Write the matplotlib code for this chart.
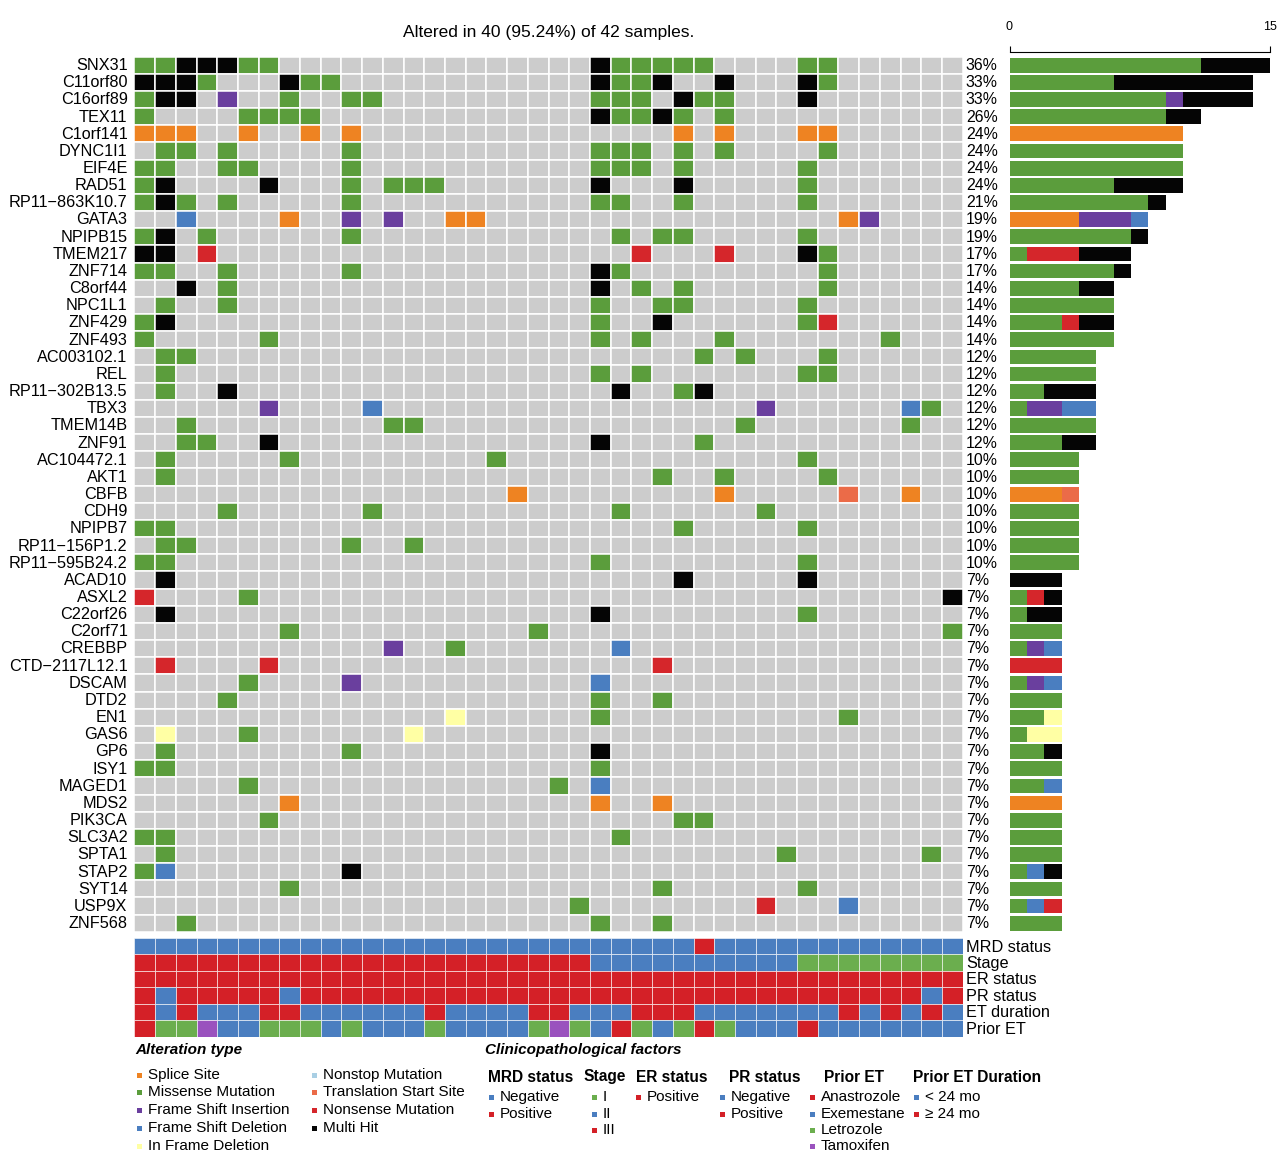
"""
Oncoplot of top mutated genes with clinicopathological annotation tracks
"""
import matplotlib
matplotlib.use('Agg')
import matplotlib.pyplot as plt
from matplotlib.patches import Rectangle
import numpy as np

plt.rcParams['font.family'] = ['Liberation Sans', 'DejaVu Sans']

# Genes, top to bottom
genes = ['SNX31', 'C11orf80', 'C16orf89', 'TEX11', 'C1orf141', 'DYNC1I1', 'EIF4E',
         'RAD51', 'RP11\u2212863K10.7', 'GATA3', 'NPIPB15', 'TMEM217', 'ZNF714',
         'C8orf44', 'NPC1L1', 'ZNF429', 'ZNF493', 'AC003102.1', 'REL',
         'RP11\u2212302B13.5', 'TBX3', 'TMEM14B', 'ZNF91', 'AC104472.1', 'AKT1',
         'CBFB', 'CDH9', 'NPIPB7', 'RP11\u2212156P1.2', 'RP11\u2212595B24.2', 'ACAD10',
         'ASXL2', 'C22orf26', 'C2orf71', 'CREBBP', 'CTD\u22122117L12.1', 'DSCAM',
         'DTD2', 'EN1', 'GAS6', 'GP6', 'ISY1', 'MAGED1', 'MDS2', 'PIK3CA', 'SLC3A2',
         'SPTA1', 'STAP2', 'SYT14', 'USP9X', 'ZNF568']

# one string per gene, one character per altered sample (40 columns)
# S splice site, M missense, I frame shift ins, D frame shift del, F in frame del,
# N nonstop, T translation start site, X nonsense, H multi hit, . none
mutations = [
    'MMHHHMM...' '..........' '..HMMMMM..' '..MM......',
    'HHHM...HMM' '..........' '..HMMH..H.' '..HM......',
    'MHH.I..M..' 'MM........' '..MMM.HMM.' '..H.......',
    'M....MMMM.' '..........' '..HMMHM.M.' '..........',
    'SSS..S..S.' 'S.........' '......S.S.' '..SS......',
    '.MM.M.....' 'M.........' '..MMM.M.M.' '...M......',
    'MM..MM....' 'M.........' '..MMM.M...' '..M.......',
    'MH....H...' 'M.MMM.....' '..H...H...' '..M.......',
    'MHM.M.....' 'M.........' '..MM..M...' '..M.......',
    '..D....S..' 'I.I..SS...' '..........' '....SI....',
    'MH.M......' 'M.........' '...M.MM...' '..M.......',
    'HH.X......' '..........' '....X...X.' '..HM......',
    'MM..M.....' 'M.........' '..HM......' '...M......',
    '..H.M.....' '..........' '..H.M.M...' '...M......',
    '.M..M.....' '..........' '..M..MM...' '..M.......',
    'MH........' '..........' '..M..H....' '..MX......',
    'M.....M...' '..........' '..M.M...M.' '......M...',
    '.MM.......' '..........' '.......M.M' '...M......',
    '.M........' '..........' '..M.M.....' '..MM......',
    '.M..H.....' '..........' '...H..MH..' '..........',
    '......I...' '.D........' '..........' 'I......DM.',
    '..M.......' '..MM......' '.........M' '.......M..',
    '..MM..H...' '..........' '..H....M..' '..........',
    '.M.....M..' '.......M..' '..........' '..M.......',
    '.M........' '..........' '.....M..M.' '...M......',
    '..........' '........S.' '........S.' '....T..S..',
    '....M.....' '.M........' '...M......' 'M.........',
    'MM........' '..........' '......M...' '..M.......',
    '.MM.......' 'M..M......' '..........' '..........',
    'MM........' '..........' '..M.......' '..M.......',
    '.H........' '..........' '......H...' '..H.......',
    'X....M....' '..........' '..........' '.........H',
    '.H........' '..........' '..H.......' '..M.......',
    '.......M..' '.........M' '..........' '.........M',
    '..........' '..I..M....' '...D......' '..........',
    '.X....X...' '..........' '.....X....' '..........',
    '.....M....' 'I.........' '..D.......' '..........',
    '....M.....' '..........' '..M..M....' '..........',
    '..........' '.....F....' '..M.......' '....M.....',
    '.F...M....' '...F......' '..........' '..........',
    '.M........' 'M.........' '..H.......' '..........',
    'MM........' '..........' '..M.......' '..........',
    '.....M....' '..........' 'M.D.......' '..........',
    '.......S..' '..........' '..S..S....' '..........',
    '......M...' '..........' '......MM..' '..........',
    'MM........' '..........' '...M......' '..........',
    '.M........' '..........' '..........' '.M......M.',
    'MD........' 'H.........' '..........' '..........',
    '.......M..' '..........' '.....M....' '..M.......',
    '..........' '..........' '.M........' 'X...D.....',
    '..M.......' '..........' '..M..M....' '..........',
]

n_samples_total = 42

vc_codes = ['S', 'M', 'I', 'D', 'F', 'N', 'T', 'X', 'H']
vc_labels = ['Splice Site', 'Missense Mutation', 'Frame Shift Insertion',
             'Frame Shift Deletion', 'In Frame Deletion', 'Nonstop Mutation',
             'Translation Start Site', 'Nonsense Mutation', 'Multi Hit']
vc_colors = ['#EE8322', '#5B9D3C', '#6A3F9E', '#4A7EC0', '#FFFFA4', '#A9CFE4',
             '#EB6B48', '#D5262B', '#050505']

# clinical annotation per sample
mrd_status = 'NNNNNNNNNNNNNNNNNNNNNNNNNNNPNNNNNNNNNNNN'     # N negative, P positive
stage = '3333333333333333333333222222222211111111'          # 1 I, 2 II, 3 III
er_status = 'PPPPPPPPPPPPPPPPPPPPPPPPPPPPPPPPPPPPPPPP'
pr_status = 'PNPPPPPNPPPPPPPPPPPPPPPPPPPPPPPPPPPPPPNP'
et_duration = 'LSLSSSLLSSSSSSLSSSSLLSSSLLLSSSSSSSLSLSLS'   # S < 24 mo, L >= 24 mo
prior_et = 'ALLTEELLLELEEELEEEELTLEALELALEEEAEEEEEEE'      # A/E/L/T drugs

c_blue = '#4A7EC0'
c_red = '#D42027'
c_green = '#6BAE4E'
c_purple = '#9A52BE'

tracks = [
    ('MRD status', mrd_status, {'N': c_blue, 'P': c_red}),
    ('Stage', stage, {'1': c_green, '2': c_blue, '3': c_red}),
    ('ER status', er_status, {'P': c_red}),
    ('PR status', pr_status, {'N': c_blue, 'P': c_red}),
    ('ET duration', et_duration, {'S': c_blue, 'L': c_red}),
    ('Prior ET', prior_et, {'A': c_red, 'E': c_blue, 'L': c_green, 'T': c_purple}),
]

# ---------------------------------------------------------------------------
W, H = 1285, 1154
fig = plt.figure(figsize=(W / 100, H / 100), dpi=100)


def px_axes(x0, y0, x1, y1):
    """Axes placed by pixel box (top-left origin)."""
    return fig.add_axes([x0 / W, 1 - y1 / H, (x1 - x0) / W, (y1 - y0) / H])


n_genes = len(genes)
n_cols = len(mutations[0])
color_of = dict(zip(vc_codes, vc_colors))

grid_x0, grid_x1 = 134.4, 962.7
grid_y0, grid_y1 = 56.6, 931.8

# 1. Mutation matrix
ax = px_axes(grid_x0, grid_y0, grid_x1, grid_y1)
for r, row in enumerate(mutations):
    for c, code in enumerate(row):
        fc = color_of.get(code, '#CCCCCC')
        ax.add_patch(Rectangle((c, r), 1, 1, facecolor=fc, edgecolor='white', linewidth=1.1))
    ax.text(-0.33, r + 0.52, genes[r], ha='right', va='center', fontsize=11.7)
    n_mut = sum(ch != '.' for ch in row)
    pct = int(np.floor(100 * n_mut / n_samples_total + 0.5))
    ax.text(n_cols + 0.15, r + 0.52, f'{pct}%', ha='left', va='center', fontsize=11.4)
ax.set_xlim(0, n_cols)
ax.set_ylim(n_genes, 0)
ax.axis('off')

n_altered = sum(any(row[c] != '.' for row in mutations) for c in range(n_cols))
fig.text((grid_x0 + grid_x1) / 2 / W, 1 - 33 / H,
         f'Altered in {n_altered} ({100 * n_altered / n_samples_total:.2f}%) of {n_samples_total} samples.',
         ha='center', va='center', fontsize=12.5)

# 2. Stacked bars of alteration counts per gene
axb = px_axes(1009.5, grid_y0, 1270, grid_y1)
for r, row in enumerate(mutations):
    left = 0
    for code, col in zip(vc_codes, vc_colors):
        cnt = row.count(code)
        if cnt:
            axb.barh(r + 0.5, cnt, left=left, height=0.86, color=col, edgecolor='none')
            left += cnt
axb.set_xlim(0, 15)
axb.set_ylim(n_genes, 0)
for side in ['right', 'bottom', 'left']:
    axb.spines[side].set_visible(False)
axb.spines['top'].set_position(('outward', 3))
axb.spines['top'].set_linewidth(0.8)
axb.xaxis.tick_top()
axb.set_xticks([0, 15])
axb.tick_params(axis='x', length=4, width=0.8, labelsize=9, pad=10)
axb.set_yticks([])

# 3. Clinical annotation tracks
axc = px_axes(grid_x0, 938, grid_x1, 1036.5)
for r, (name, values, cmap) in enumerate(tracks):
    for c, v in enumerate(values):
        axc.add_patch(Rectangle((c, r), 1, 1, facecolor=cmap[v], edgecolor='white', linewidth=0.4))
    axc.text(n_cols + 0.15, r + 0.55, name, ha='left', va='center', fontsize=11.7)
axc.set_xlim(0, n_cols)
axc.set_ylim(len(tracks), 0)
axc.axis('off')

# 4. Legends, drawn in pixel coordinates
axl = fig.add_axes([0, 0, 1, 1])
axl.set_xlim(0, W)
axl.set_ylim(H, 0)
axl.axis('off')
axl.patch.set_alpha(0)


def legend_item(x, y, color, label):
    axl.add_patch(Rectangle((x - 2.5, y - 2.5), 5, 5, facecolor=color, edgecolor='none'))
    axl.text(x + 9, y, label, ha='left', va='center', fontsize=11)


axl.text(135, 1050, 'Alteration type', ha='left', va='center', fontsize=11,
         fontweight='bold', fontstyle='italic')
vc_rows_y = [1075, 1092.5, 1110, 1128, 1146]
for i, (lab, col) in enumerate(zip(vc_labels, vc_colors)):
    if i < 5:
        legend_item(139, vc_rows_y[i], col, lab)
    else:
        legend_item(314, vc_rows_y[i - 5], col, lab)

axl.text(485, 1050, 'Clinicopathological factors', ha='left', va='center', fontsize=11,
         fontweight='bold', fontstyle='italic')

clin_rows_y = [1097, 1114, 1130, 1146]
clin_legend = [
    ('MRD status', 488, 491, [('Negative', c_blue), ('Positive', c_red)]),
    ('Stage', 584, 594, [('I', c_green), ('II', c_blue), ('III', c_red)]),
    ('ER status', 636, 638, [('Positive', c_red)]),
    ('PR status', 729, 722, [('Negative', c_blue), ('Positive', c_red)]),
    ('Prior ET', 824, 812, [('Anastrozole', c_red), ('Exemestane', c_blue),
                            ('Letrozole', c_green), ('Tamoxifen', c_purple)]),
    ('Prior ET Duration', 913, 916, [('< 24 mo', c_blue), ('\u2265 24 mo', c_red)]),
]
for title, tx, mx, items in clin_legend:
    axl.text(tx, 1077, title, ha='left', va='center', fontsize=11.2, fontweight='bold')
    for k, (lab, col) in enumerate(items):
        legend_item(mx, clin_rows_y[k], col, lab)

plt.savefig('out.png', dpi=100)
plt.close()
